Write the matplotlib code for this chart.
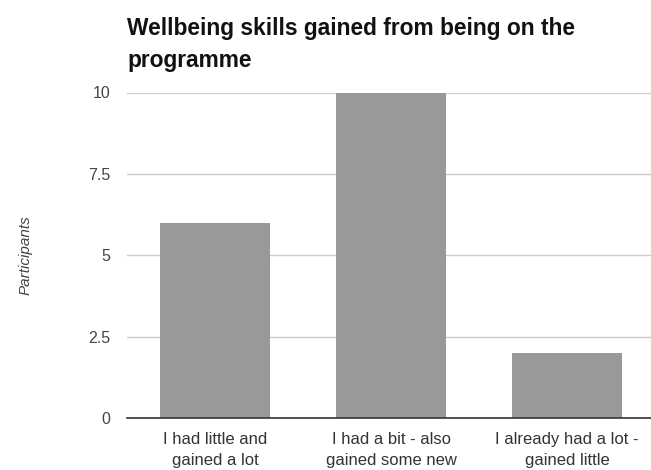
import matplotlib
matplotlib.use("Agg")
import matplotlib.pyplot as plt

# Data
categories = ["I had little and\ngained a lot",
              "I had a bit - also\ngained some new",
              "I already had a lot -\ngained little"]
participants = [6, 10, 2]
y_ticks = [0, 2.5, 5, 7.5, 10]
y_tick_labels = ["0", "2.5", "5", "7.5", "10"]

plt.rcParams["font.family"] = ["Liberation Sans", "DejaVu Sans"]

fig = plt.figure(figsize=(6.51, 4.70), dpi=100)
ax = fig.add_axes([127 / 651, 52 / 470, 528 / 651, 325.5 / 470])

x = range(len(categories))
ax.bar(x, participants, width=0.62, color="#999999", zorder=2)

ax.set_xlim(-0.5, 2.5)
ax.set_ylim(0, 10)
ax.set_yticks(y_ticks)
ax.set_yticklabels(y_tick_labels, color="#444444", fontsize=11.5)
ax.set_xticks(list(x))
ax.set_xticklabels(categories, color="#333333", fontsize=12, linespacing=1.55)
ax.tick_params(axis="both", length=0)
ax.tick_params(axis="y", pad=12)
ax.tick_params(axis="x", pad=10)

ax.grid(axis="y", color="#cccccc", linewidth=1, zorder=0)
for side in ["top", "right", "left"]:
    ax.spines[side].set_visible(False)
ax.spines["bottom"].set_color("#333333")
ax.spines["bottom"].set_linewidth(1.2)
ax.spines["bottom"].set_zorder(3)

ax.set_ylabel("Participants", fontstyle="italic", color="#444444",
              fontsize=11, labelpad=40)

fig.text(127 / 651, 1 - 17 / 470, "Wellbeing skills gained from being on the\nprogramme",
         fontsize=16.4, fontweight="bold", color="#111111", ha="left", va="top",
         linespacing=1.5)

fig.savefig("out.png", dpi=100)
